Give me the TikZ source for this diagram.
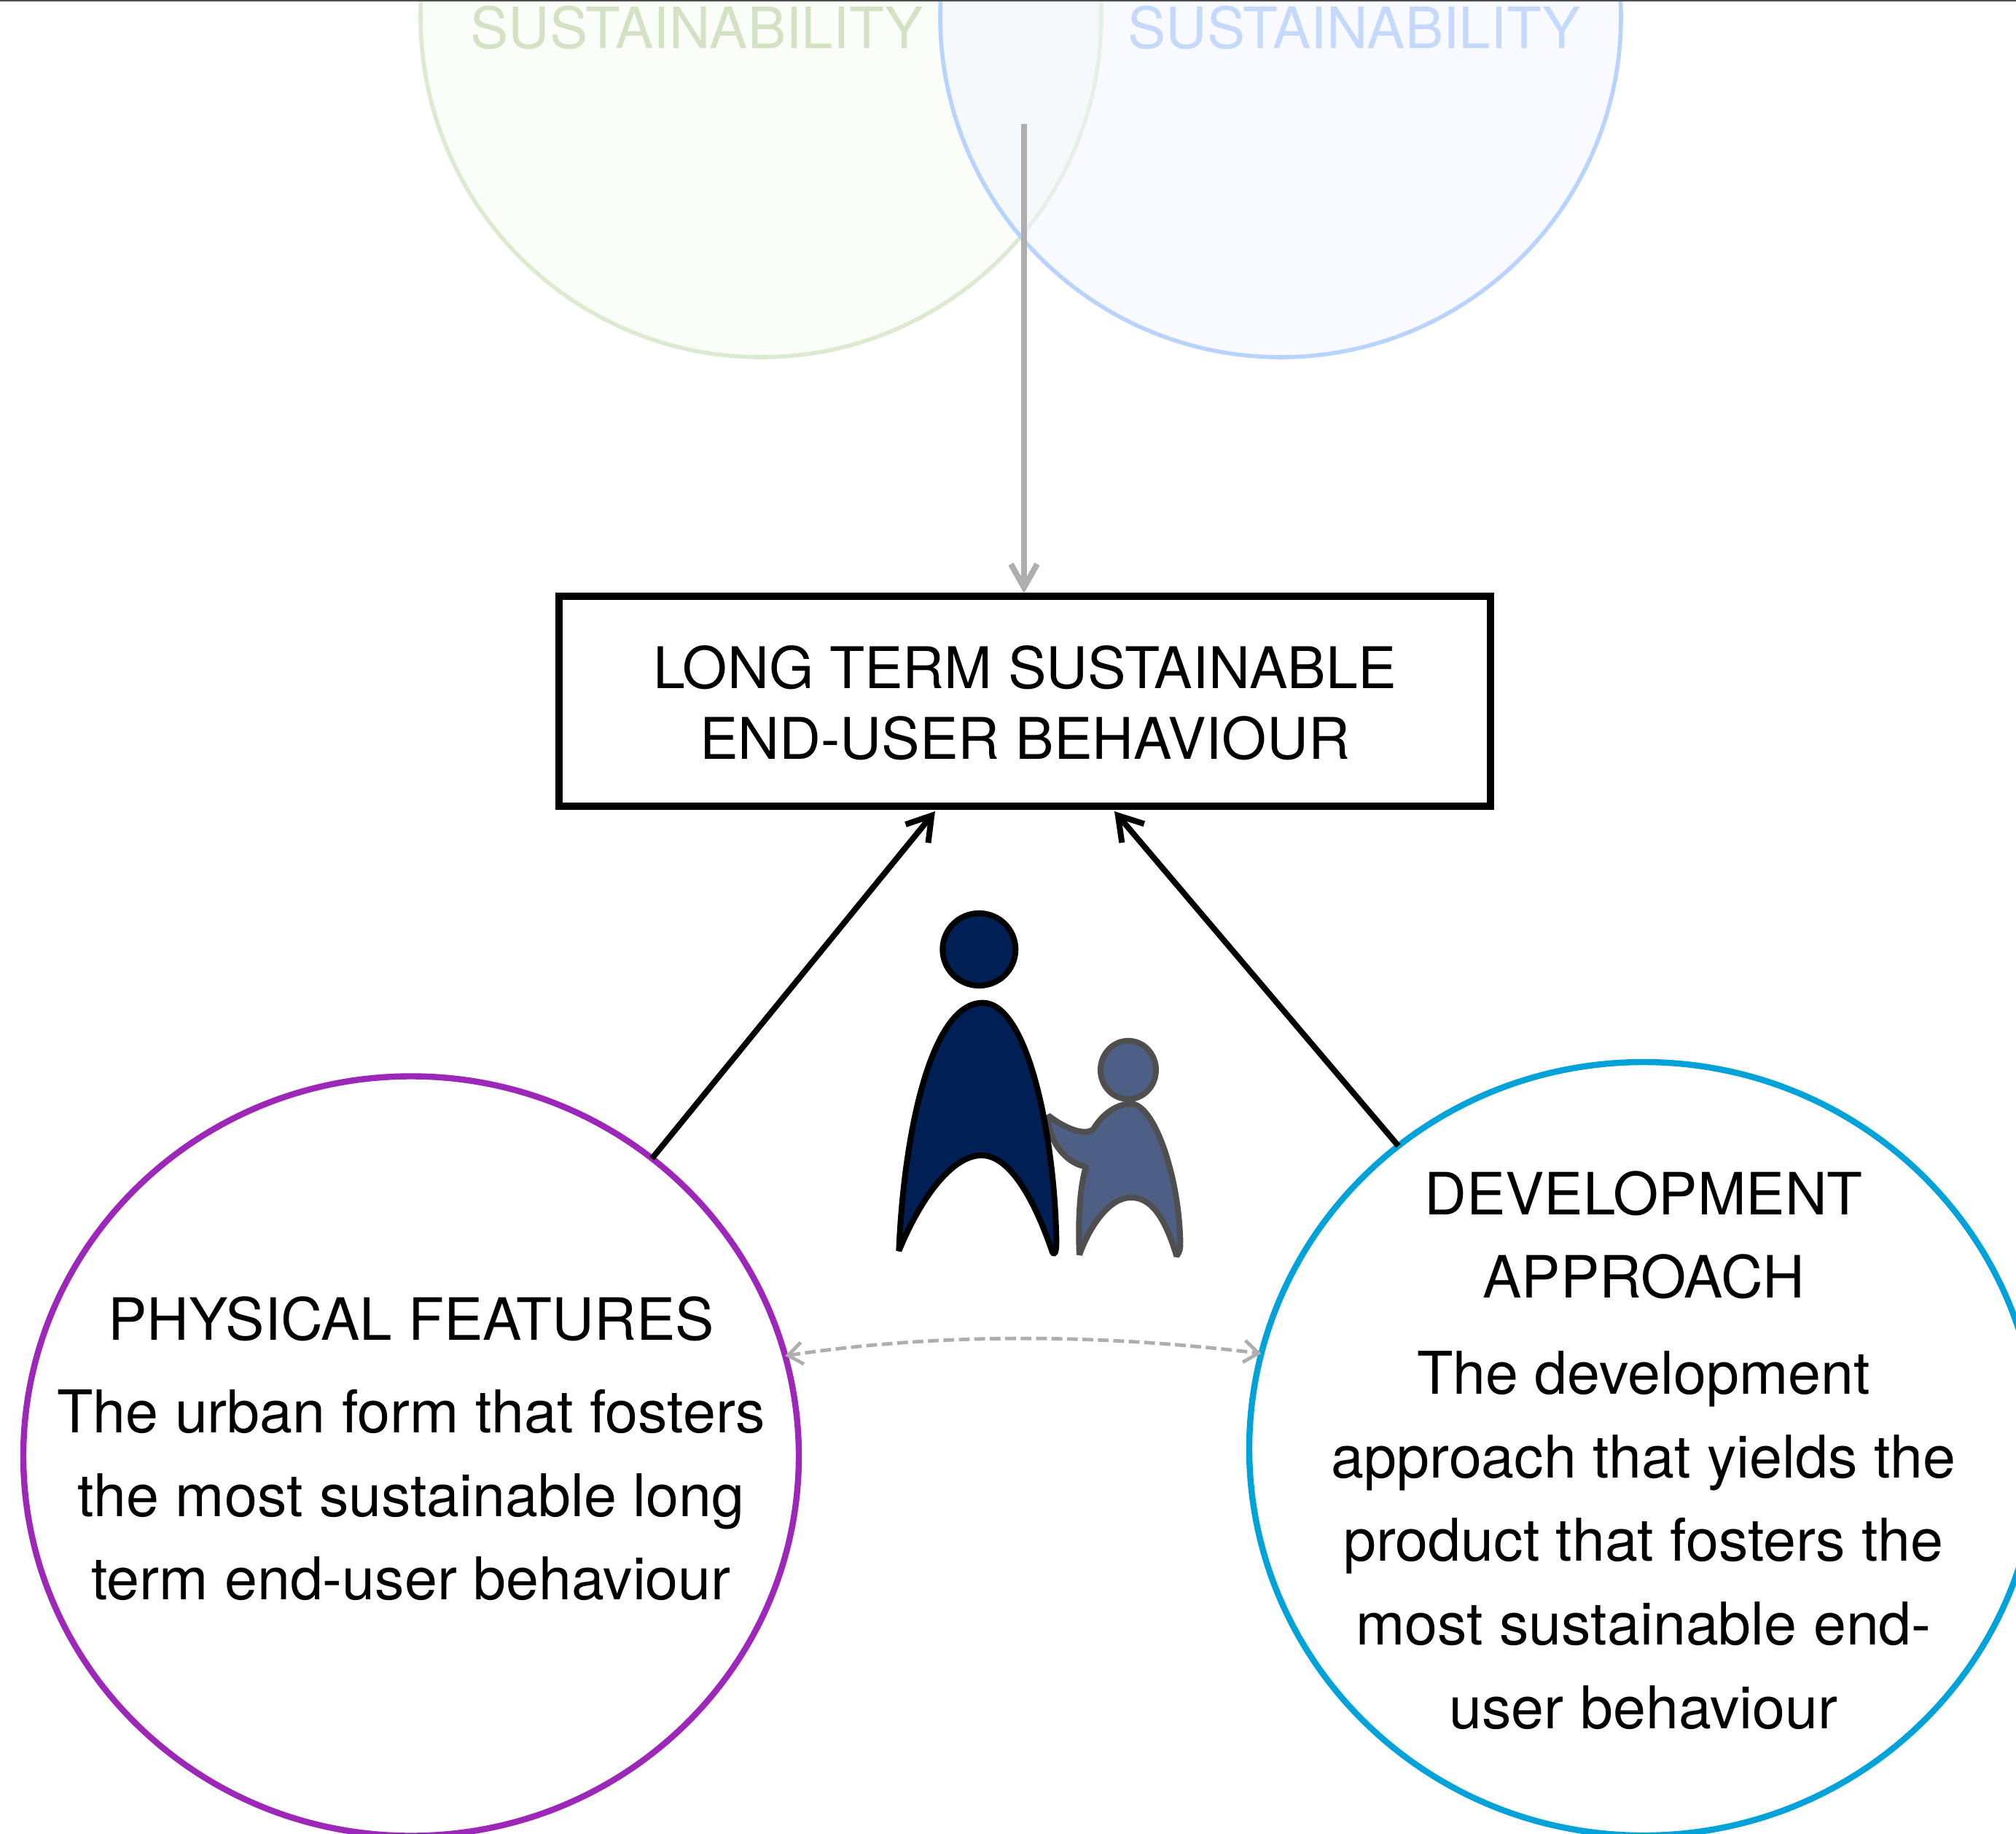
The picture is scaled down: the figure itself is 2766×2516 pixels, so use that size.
\documentclass[tikz,border=0pt]{standalone}
\usepackage{fontspec}
\setmainfont{TeX Gyre Heros}
\usetikzlibrary{arrows.meta,shapes.geometric}
\definecolor{navy}{HTML}{001F54}
\definecolor{navyl}{HTML}{4D5F85}
\definecolor{grayedge}{HTML}{4F4F4F}
\definecolor{arrowgray}{HTML}{AEAEAE}
\definecolor{greenedge}{HTML}{DCEBD0}
\definecolor{greenfill}{HTML}{FAFDF8}
\definecolor{greentext}{HTML}{D3E2C3}
\definecolor{blueedge}{HTML}{B8D3FF}
\definecolor{bluefill}{HTML}{F2F6FF}
\definecolor{bluetext}{HTML}{C5D9FD}
\definecolor{purpleedge}{HTML}{9C27B8}
\definecolor{cyanedge}{HTML}{00A3D9}
\tikzset{
  x=0.25pt,y=-0.25pt,
  vennA/.style={circle,draw=greenedge,fill=greenfill,line width=1.4pt,minimum size=233.5pt,inner sep=0pt,outer sep=0pt},
  vennB/.style={circle,draw=blueedge,fill=bluefill,fill opacity=.5,line width=1.4pt,minimum size=233.5pt,inner sep=0pt,outer sep=0pt},
  venntext/.style={font=\fontsize{19.55pt}{24pt}\selectfont,anchor=base,inner sep=0pt},
  goalbox/.style={draw=black,line width=2.6pt,minimum width=319.5pt,minimum height=72pt,inner sep=0pt,outer sep=0pt},
  themecircle/.style={ellipse,line width=2.1pt,inner sep=0pt,outer sep=0pt},
  goalhead/.style={font=\fontsize{19.7pt}{24pt}\selectfont,anchor=base,inner sep=0pt},
  head/.style={font=\fontsize{20pt}{24pt}\selectfont,anchor=base,inner sep=0pt},
  bodytext/.style={font=\fontsize{20.2pt}{24pt}\selectfont,anchor=base,inner sep=0pt},
  solidarrow/.style={draw=black,line width=2pt,-{Straight Barb[length=8pt,width=10pt,line width=2pt]}},
  grayarrow/.style={draw=arrowgray,line width=2pt,-{Straight Barb[length=8pt,width=9pt,line width=2pt]}},
  dasharrow/.style={draw=arrowgray,line width=1.2pt,dash pattern=on 3.7pt off 1.6pt,{Straight Barb[length=5pt,width=7.5pt,line width=1.2pt]}-{Straight Barb[length=5pt,width=7.5pt,line width=1.2pt]}},
  adult/.style={draw=black,fill=navy,line width=2pt,line join=bevel},
  child/.style={draw=grayedge,fill=navyl,line width=2pt,line join=bevel}
}
\begin{document}
\begin{tikzpicture}
\useasboundingbox (0,0) rectangle (2766,2516);
\fill[white] (0,0) rectangle (2766,2516);
\clip (0,0) rectangle (2766,2516);
\node[vennA] (venng) at (1044,23) {};
\node[vennB] (vennb) at (1757,23) {};
\node[venntext,text=greentext] (sl) at (956,66) {SUSTAINABILITY};
\node[venntext,text=bluetext] (sr) at (1858,66) {SUSTAINABILITY};
\draw[grayedge,line width=.5pt] (0,1) -- (2766,1);
\node[goalbox] (goal) at (1406,962) {};
\node[goalhead] (goal1) at (1406,944) {LONG TERM SUSTAINABLE};
\node[goalhead] (goal2) at (1406,1041) {END-USER BEHAVIOUR};
\node[themecircle,draw=purpleedge,minimum width=266pt,minimum height=260.5pt] (phys) at (564,1997.5) {};
\node[themecircle,draw=cyanedge,minimum width=270.5pt,minimum height=265.25pt] (dev) at (2255,1987.5) {};
\node[head] (physh) at (564,1838) {PHYSICAL FEATURES};
\node[bodytext] (phys1) at (564,1965) {The urban form that fosters};
\node[bodytext] (phys2) at (564,2080) {the most sustainable long};
\node[bodytext] (phys3) at (564,2194) {term end-user behaviour};
\node[head] (devh1) at (2255,1666) {DEVELOPMENT};
\node[head] (devh2) at (2255,1780) {APPROACH};
\node[bodytext] (dev1) at (2255,1912) {The development};
\node[bodytext] (dev2) at (2255,2027) {approach that yields the};
\node[bodytext] (dev3) at (2255,2141) {product that fosters the};
\node[bodytext] (dev4) at (2255,2256) {most sustainable end-};
\node[bodytext] (dev5) at (2255,2371) {user behaviour};
\coordinate (topstart) at (1405,170);
\coordinate (goaltop) at (1405,814);
\coordinate (goalleft) at (1283,1113);
\coordinate (goalright) at (1529,1113);
\coordinate (arcA) at (1290,1828);
\coordinate (arcB) at (1510,1830);
\draw[grayarrow] (topstart) -- (goaltop);
\draw[solidarrow] (phys.51) -- (goalleft);
\draw[solidarrow] (dev.129.8) -- (goalright);
\draw[dasharrow] (phys.15.5) .. controls (arcA) and (arcB) .. (dev.166.2);
\begin{scope}[shift={(1150,1200)},x=0.083333pt,y=-0.089286pt]
\draw[child] (1194,750) ellipse [x radius=114,y radius=112];
\draw[child] (993,1460) .. controls (985,1300) and (1000,1180) .. (1020,1122) .. controls (950,1110) and (885,1050) .. (865,960) -- (865,925) .. controls (950,985) and (1020,1000) .. (1050,978) .. controls (1090,915) and (1150,880) .. (1205,880) .. controls (1300,880) and (1400,1150) .. (1408,1400) .. controls (1410,1440) and (1405,1450) .. (1393,1465) .. controls (1340,1300) and (1280,1240) .. (1205,1240) .. controls (1120,1240) and (1040,1340) .. (993,1460) -- cycle;
\draw[adult] (580,287) ellipse [x radius=150,y radius=139];
\draw[adult] (250,1445) .. controls (270,1000) and (380,492) .. (595,492) .. controls (780,492) and (890,1000) .. (898,1400) .. controls (900,1465) and (885,1465) .. (878,1440) .. controls (800,1230) and (700,1078) .. (590,1078) .. controls (470,1078) and (340,1240) .. (250,1445) -- cycle;
\end{scope}
\end{tikzpicture}
\end{document}
